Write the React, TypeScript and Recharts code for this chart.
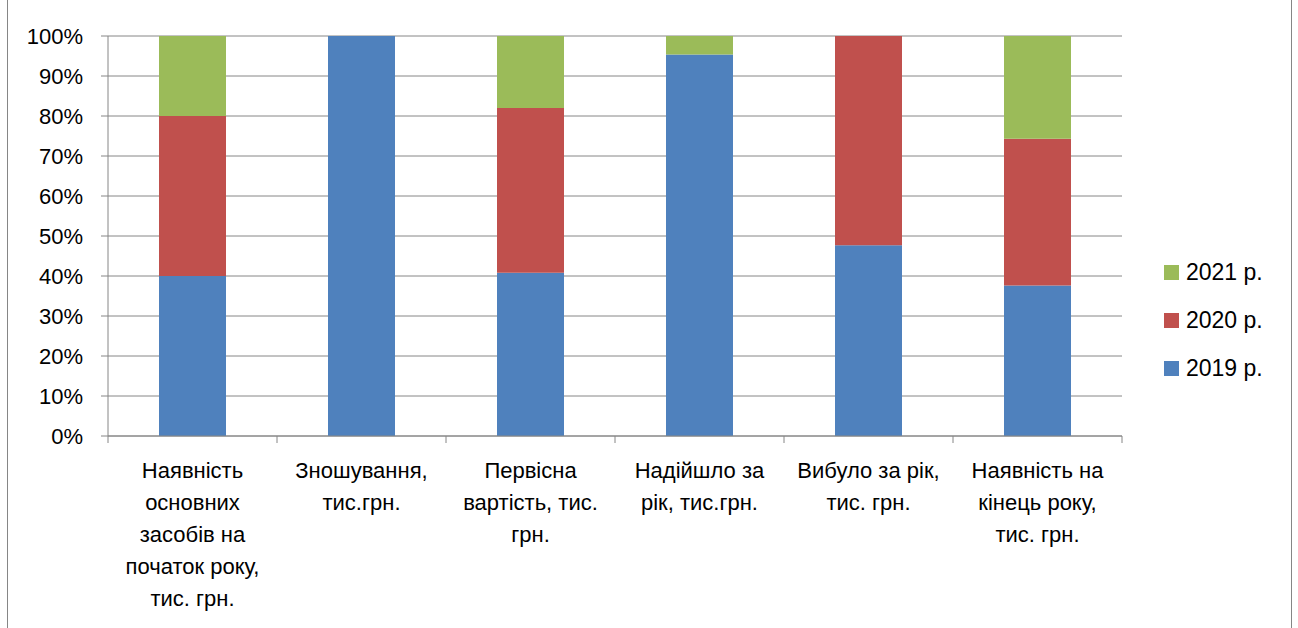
import React from 'react';
import { BarChart, Bar, XAxis, YAxis, CartesianGrid, Legend } from 'recharts';

// categories use '\n' for the wrapped label lines under the axis
const categories = [
  'Наявність\nосновних\nзасобів на\nпочаток року,\nтис. грн.',
  'Зношування,\nтис.грн.',
  'Первісна\nвартість, тис.\nгрн.',
  'Надійшло за\nрік, тис.грн.',
  'Вибуло за рік,\nтис. грн.',
  'Наявність на\nкінець року,\nтис. грн.',
];

const share2019 = [40, 100, 40.8, 95.4, 47.7, 37.6];
const share2020 = [40, 0, 41.2, 0, 52.3, 36.7];
const share2021 = [20, 0, 18, 4.6, 0, 25.7];

const yTicks = [0, 0.1, 0.2, 0.3, 0.4, 0.5, 0.6, 0.7, 0.8, 0.9, 1];

const data = categories.map((name, i) => ({
  name,
  y2019: share2019[i],
  y2020: share2020[i],
  y2021: share2021[i],
}));

const W = 1298;
const H = 628;
const MARGIN = { top: 36, right: 176, bottom: 12, left: 8 };
const Y_AXIS_W = 100;
const BAND = (W - MARGIN.left - Y_AXIS_W - MARGIN.right) / categories.length;
const GRID = '#868686';
const FONT = "'Liberation Sans', Arial, sans-serif";

const CategoryTick = (props: any) => {
  const { x, y, payload, index } = props;
  const axisY = y - 7;
  const lines = String(payload.value).split('\n');
  return (
    <g>
      <line x1={x - BAND / 2} x2={x - BAND / 2} y1={axisY} y2={axisY + 7} stroke={GRID} />
      {index === categories.length - 1 && (
        <line x1={x + BAND / 2} x2={x + BAND / 2} y1={axisY} y2={axisY + 7} stroke={GRID} />
      )}
      <text x={x} y={axisY + 42} textAnchor="middle" fill="#000" fontSize={22} fontFamily={FONT}>
        {lines.map((l, i) => (
          <tspan key={i} x={x} dy={i === 0 ? 0 : 32}>
            {l}
          </tspan>
        ))}
      </text>
    </g>
  );
};

const LegendList = (props: any) => {
  const items = [...(props.payload || [])].reverse();
  return (
    <div style={{ fontFamily: FONT }}>
      {items.map((it: any) => (
        <div key={it.value} style={{ display: 'flex', alignItems: 'center', height: 48 }}>
          <span style={{ width: 15, height: 15, background: it.color, marginRight: 7 }} />
          <span style={{ fontSize: 23, color: '#000' }}>{it.value}</span>
        </div>
      ))}
    </div>
  );
};

export default function App() {
  return (
    <div style={{ position: 'fixed', left: 0, top: 0, width: W, height: H, background: '#fff', fontFamily: FONT }}>
      <div
        style={{
          position: 'absolute',
          left: 7,
          top: -2,
          width: 1285,
          height: H + 20,
          boxSizing: 'border-box',
          border: `1px solid ${GRID}`,
        }}
      />
      <BarChart width={W} height={H} data={data} margin={MARGIN} stackOffset="expand" barSize={67}>
        <CartesianGrid vertical={false} stroke={GRID} strokeDasharray="" />
        <XAxis
          dataKey="name"
          interval={0}
          height={180}
          axisLine={{ stroke: GRID }}
          tickLine={false}
          tickSize={7}
          tickMargin={0}
          tick={<CategoryTick />}
        />
        <YAxis
          width={Y_AXIS_W}
          domain={[0, 1]}
          ticks={yTicks}
          tickFormatter={(v: number) => `${Math.round(v * 100)}%`}
          axisLine={{ stroke: GRID }}
          tickLine={{ stroke: GRID }}
          tickSize={7}
          tickMargin={18}
          tick={{ fill: '#000', fontSize: 22, fontFamily: FONT }}
        />
        <Bar dataKey="y2019" name="2019 р." stackId="a" fill="#4F81BD" isAnimationActive={false} />
        <Bar dataKey="y2020" name="2020 р." stackId="a" fill="#C0504D" isAnimationActive={false} />
        <Bar dataKey="y2021" name="2021 р." stackId="a" fill="#9BBB59" isAnimationActive={false} />
        <Legend
          layout="vertical"
          align="center"
          verticalAlign="middle"
          content={<LegendList />}
          wrapperStyle={{ left: 1164, top: 248, width: 130 }}
        />
      </BarChart>
    </div>
  );
}
